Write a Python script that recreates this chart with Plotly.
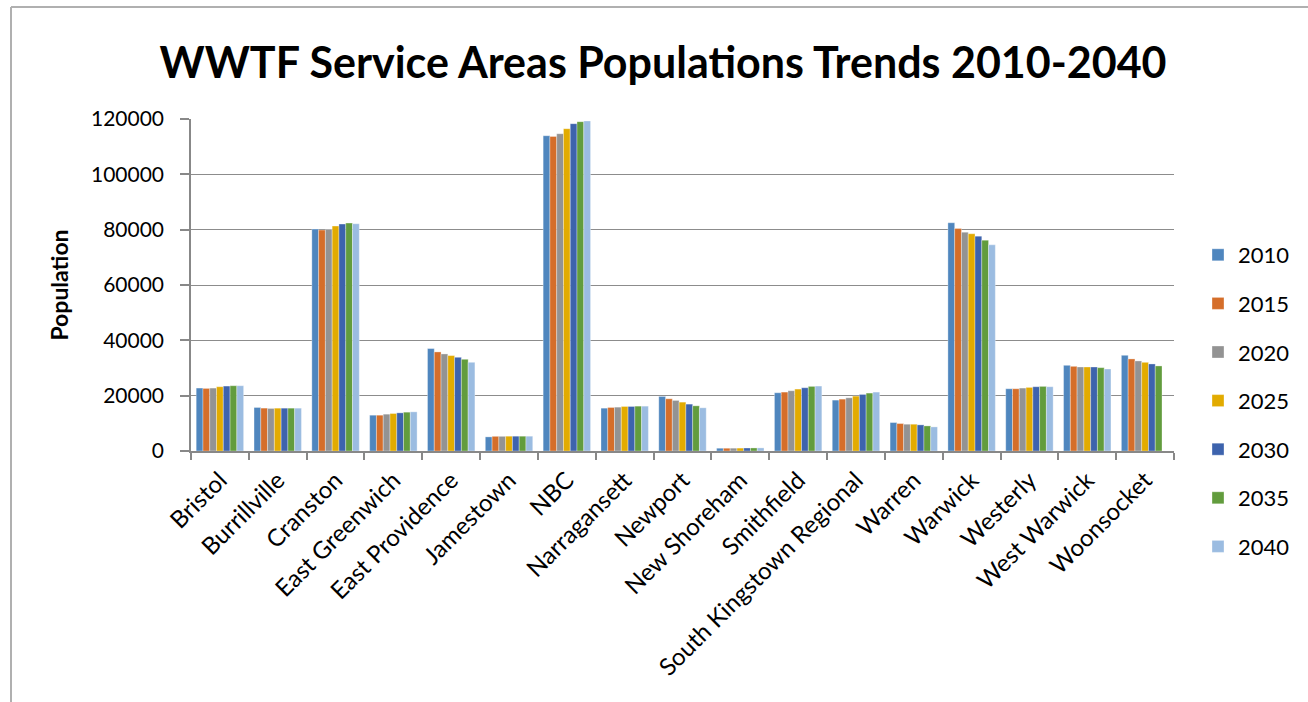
import plotly.graph_objects as go

# Service areas (x categories)
areas = ["Bristol", "Burrillville", "Cranston", "East Greenwich", "East Providence",
         "Jamestown", "NBC", "Narragansett", "Newport", "New Shoreham", "Smithfield",
         "South Kingstown Regional", "Warren", "Warwick", "Westerly", "West Warwick",
         "Woonsocket"]

years = ["2010", "2015", "2020", "2025", "2030", "2035", "2040"]

# Population by year, one value per service area
pop_2010 = [22750, 15730, 80200, 12940, 37020, 5100, 113950, 15480, 19720, 1000,
            21050, 18390, 10280, 82500, 22500, 30970, 34590]
pop_2015 = [22620, 15500, 79840, 12940, 35810, 5300, 113710, 15730, 18870, 1000,
            21290, 18750, 9920, 80450, 22500, 30600, 33280]
pop_2020 = [22740, 15380, 80080, 13310, 35080, 5300, 114680, 15850, 18270, 1020,
            21780, 19230, 9680, 79110, 22740, 30360, 32550]
pop_2025 = [23230, 15480, 81290, 13550, 34480, 5350, 116490, 16090, 17660, 1050,
            22380, 19840, 9680, 78510, 22980, 30360, 32050]
pop_2030 = [23470, 15480, 82020, 13790, 33870, 5350, 118310, 16090, 16940, 1080,
            22860, 20440, 9440, 77660, 23230, 30360, 31460]
pop_2035 = [23590, 15480, 82380, 14030, 33150, 5350, 119030, 16210, 16330, 1100,
            23350, 20930, 9070, 76210, 23350, 30120, 30740]
pop_2040 = [23590, 15480, 82140, 14150, 32060, 5350, 119280, 16210, 15610, 1120,
            23470, 21290, 8710, 74520, 23230, 29640, None]

series = [pop_2010, pop_2015, pop_2020, pop_2025, pop_2030, pop_2035, pop_2040]
colors = ["#4F86BE", "#D56E2A", "#939393", "#E2AB00", "#3D63AD", "#629C3D", "#9BBCE1"]

y_ticks = [0, 20000, 40000, 60000, 80000, 100000, 120000]

FONT = "Lato"

fig = go.Figure()
for yr, vals, col in zip(years, series, colors):
    fig.add_trace(go.Bar(
        x=areas, y=vals, name=yr, legendgroup=yr,
        marker=dict(color=col, line=dict(color="rgba(255,255,255,0.55)", width=0.6)),
    ))

# Plot-area geometry in pixels
W, H = 1308, 702
L, R, T, B = 191, 134, 119, 251
pw, ph = W - L - R, H - T - B


def px_x(x):
    return (x - L) / pw


def px_y(y):
    return (H - B - y) / ph


fig.update_layout(
    width=W, height=H,
    margin=dict(l=L, r=R, t=T, b=B),
    paper_bgcolor="white", plot_bgcolor="white",
    barmode="group", bargap=0.18, bargroupgap=0.0,
    font=dict(family=FONT, color="black"),
    title=dict(
        text="<b>WWTF Service Areas Populations Trends 2010-2040</b>",
        x=663 / W, xanchor="center", xref="container",
        y=1 - 63 / H, yanchor="middle", yref="container",
        font=dict(family=FONT, size=43, color="black"),
    ),
    legend=dict(
        x=px_x(1198), xanchor="left",
        y=px_y(234), yanchor="top",
        font=dict(family=FONT, size=22, color="black"),
        tracegroupgap=17,
        maxheight=640,
        bgcolor="rgba(0,0,0,0)",
    ),
    showlegend=True,
    shapes=[
        dict(type="line", xref="paper", yref="paper",
             x0=px_x(11), x1=px_x(W + 5), y0=px_y(7), y1=px_y(7),
             line=dict(color="#B0B0B0", width=2)),
        dict(type="line", xref="paper", yref="paper",
             x0=px_x(11), x1=px_x(11), y0=px_y(7), y1=px_y(H + 5),
             line=dict(color="#B0B0B0", width=2)),
    ],
)

fig.update_xaxes(
    type="category",
    tickangle=-45,
    tickfont=dict(family=FONT, size=24, color="black"),
    showline=True, linecolor="#888888", linewidth=1.5,
    ticks="outside", tickson="boundaries", ticklen=7, tickcolor="#888888", tickwidth=1.5,
    ticklabelstandoff=4,
    showgrid=False,
)

fig.update_yaxes(
    range=[0, 120000],
    tickvals=y_ticks,
    ticktext=[str(v) for v in y_ticks],
    tickfont=dict(family=FONT, size=21, color="black"),
    showline=True, linecolor="#888888", linewidth=1.5,
    ticks="outside", ticklen=9, tickcolor="#888888", tickwidth=1.5,
    ticklabelstandoff=12,
    showgrid=True, gridcolor="#8C8C8C", gridwidth=1.4,
    zeroline=False,
    title=dict(text="<b>Population</b>", font=dict(family=FONT, size=23, color="black"),
               standoff=16),
)

fig.write_html("out.html")
